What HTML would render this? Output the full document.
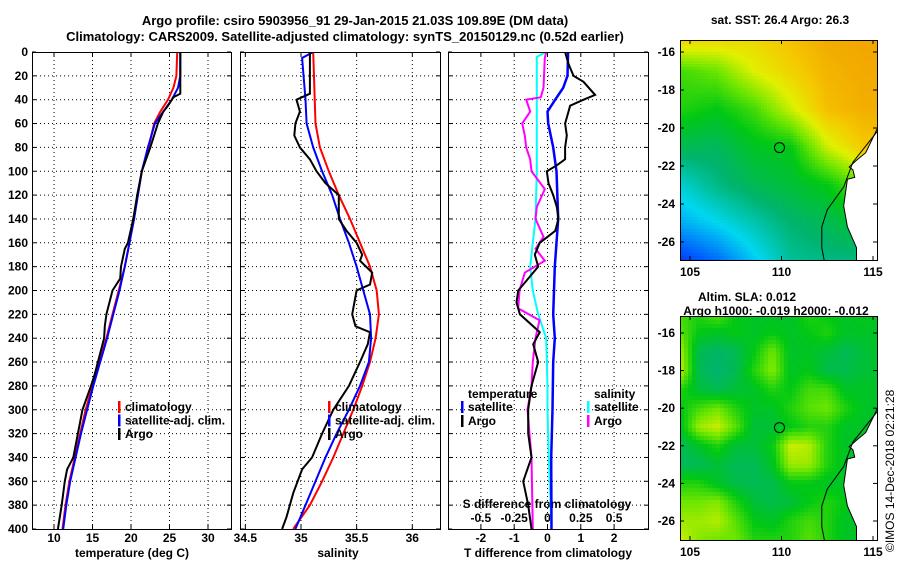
<!DOCTYPE html>
<html><head><meta charset="utf-8">
<style>
html,body{margin:0;padding:0;background:#fff;}
svg{display:block;}
text{font-family:"Liberation Sans",sans-serif;font-weight:bold;font-size:12px;fill:#000;}
.t{font-size:13px;}
</style></head>
<body>
<svg id="fig" width="900" height="580" viewBox="0 0 900 580" xmlns="http://www.w3.org/2000/svg">
<text class="t" x="355" y="25" text-anchor="middle">Argo profile: csiro 5903956_91 29-Jan-2015 21.03S 109.89E (DM data)</text>
<text class="t" x="345" y="41" text-anchor="middle">Climatology: CARS2009. Satellite-adjusted climatology: synTS_20150129.nc (0.52d earlier)</text>
<text x="780" y="24" text-anchor="middle">sat. SST: 26.4 Argo: 26.3</text>
<text x="747" y="301" text-anchor="middle">Altim. SLA: 0.012</text>
<text x="776" y="315" text-anchor="middle">Argo h1000: -0.019 h2000: -0.012</text>
<text x="0" y="0" transform="translate(894,552) rotate(-90)" style="font-weight:normal;font-size:12px">©IMOS 14-Dec-2018 02:21:28</text>
<g id="g"></g>
</svg>
<script>
// ---- data ----
const depthTClim=[0,20,30,40,50,60,80,100,120,140,160,180,200,220,240,260,280,300,320,340,360,380,400];
const tempClim=[26.0,25.9,25.5,24.8,23.8,23.0,22.3,21.4,20.9,20.3,19.8,19.2,18.4,17.6,16.8,15.9,15.0,14.1,13.4,12.7,12.0,11.5,11.1];
const tempSat=[26.4,26.4,26.1,25.3,24.2,23.1,22.2,21.4,20.9,20.4,19.8,19.2,18.5,17.7,16.9,16.0,15.1,14.3,13.5,12.8,12.1,11.6,11.2];
const depthTArgo=[0,35,38,45,50,60,70,80,100,120,140,160,165,180,190,200,220,230,240,260,270,280,300,320,340,350,360,380,400];
const tempArgo=[26.4,26.4,25.5,24.8,24.2,23.5,23.0,22.5,21.4,20.8,20.3,19.6,19.2,18.7,18.6,17.6,16.8,16.6,16.5,15.7,15.3,14.8,13.7,13.1,12.5,11.7,11.4,11.0,10.5];
const depthSClim=[0,60,80,100,120,140,160,180,200,220,240,260,280,300,320,340,360,380,400];
const salClim=[35.11,35.13,35.17,35.25,35.34,35.44,35.53,35.62,35.68,35.70,35.67,35.62,35.55,35.47,35.38,35.29,35.19,35.08,34.93];
const depthSSat=[0,5,40,60,80,100,120,140,160,180,200,220,240,260,280,300,320,340,360,380,400];
const salSat=[35.11,35.01,35.04,35.05,35.11,35.19,35.28,35.35,35.43,35.50,35.56,35.62,35.63,35.61,35.53,35.43,35.32,35.22,35.13,35.04,34.95];
const depthSArgo=[0,35,40,50,60,70,80,90,100,110,120,140,150,160,170,175,185,195,200,220,230,235,245,260,280,300,320,340,350,370,390,400];
const salArgo=[35.08,35.08,34.96,34.99,34.95,34.94,34.99,35.08,35.14,35.22,35.34,35.34,35.41,35.50,35.55,35.53,35.64,35.62,35.50,35.46,35.49,35.62,35.60,35.53,35.43,35.29,35.19,35.10,35.01,34.93,34.87,34.83];
const depthDT=[0,20,30,40,50,60,80,100,140,160,180,220,240,260,300,340,400];
const dTSat=[0.62,0.60,0.47,0.23,0.0,0.02,0.17,0.27,0.32,0.27,0.22,0.17,0.22,0.17,0.15,0.11,0.12];
const depthDTArgo=[0,10,20,25,36,40,45,50,60,70,80,90,95,100,110,120,130,140,150,160,170,180,190,200,210,220,235,245,260,280,300,320,340,360,380,400];
const dTArgo=[0.53,0.63,0.78,1.08,1.43,1.08,0.68,0.63,0.53,0.58,0.53,0.53,0.28,-0.02,0.03,0.17,0.28,0.33,0.23,-0.23,-0.38,-0.28,-0.58,-0.88,-0.93,-0.83,-0.23,-0.43,-0.28,-0.48,-0.58,-0.58,-0.48,-0.73,-0.58,-0.48];
const depthDS=[0,4,40,100,140,160,180,200,220,240,280,300,340,400];
const dSSat=[-0.01,-0.08,-0.08,-0.08,-0.09,-0.11,-0.13,-0.11,-0.07,-0.01,0.0,0.0,0.01,0.03];
const depthDSArgo=[0,5,30,38,40,50,60,70,80,90,100,115,130,140,155,165,175,185,200,215,225,240,260,280,300,340,400];
const dSArgo=[-0.01,-0.02,-0.03,-0.05,-0.16,-0.13,-0.19,-0.17,-0.16,-0.13,-0.12,-0.02,-0.08,-0.09,-0.03,-0.09,-0.02,-0.17,-0.21,-0.22,-0.06,-0.09,-0.11,-0.12,-0.15,-0.12,-0.11];
const depthTicks=[0,20,40,60,80,100,120,140,160,180,200,220,240,260,280,300,320,340,360,380,400];
const tempTicks=[10,15,20,25,30];
const salTicks=[34.5,35,35.5,36];
const salTickLabels=["34.5","35","35.5","36"];
const dTTicks=[-2,-1,0,1,2];
const dSTicks=[-0.5,-0.25,0,0.25,0.5];
const latTicks=[-16,-18,-20,-22,-24,-26];
const lonTicks=[105,110,115];
// SST coarse grid: rows lat -15..-27 step 2; cols lon 104.5..114.5 step 2 (colour index 0..1)
const sstGrid=[
[0.82,0.80,0.78,0.82,0.86,0.87],
[0.58,0.62,0.72,0.78,0.84,0.86],
[0.55,0.52,0.58,0.70,0.82,0.85],
[0.45,0.44,0.50,0.52,0.70,0.80],
[0.33,0.40,0.45,0.48,0.52,0.62],
[0.25,0.30,0.36,0.42,0.45,0.50],
[0.12,0.18,0.28,0.38,0.40,0.40]];
// SLA grid: rows lat -15..-27 step 1; cols lon 104.5..115.5 step 1
const slaGrid=[
[.58,.55,.60,.52,.50,.50,.50,.55,.52,.50,.52,.50],
[.60,.52,.50,.52,.50,.52,.50,.52,.55,.50,.50,.50],
[.66,.45,.43,.45,.52,.62,.50,.50,.48,.45,.48,.50],
[.68,.45,.42,.45,.55,.64,.50,.52,.46,.46,.48,.50],
[.55,.48,.45,.48,.50,.55,.52,.58,.58,.50,.50,.50],
[.52,.58,.62,.55,.50,.50,.55,.60,.62,.55,.50,.50],
[.50,.66,.70,.60,.48,.48,.52,.55,.55,.50,.50,.50],
[.45,.50,.55,.48,.48,.52,.70,.68,.55,.50,.50,.50],
[.44,.45,.48,.45,.45,.50,.66,.66,.55,.50,.50,.50],
[.55,.55,.50,.46,.45,.46,.52,.52,.50,.50,.50,.50],
[.62,.62,.64,.55,.48,.46,.48,.52,.55,.52,.50,.50],
[.66,.66,.68,.60,.52,.50,.55,.58,.55,.50,.50,.50],
[.70,.64,.62,.62,.55,.55,.55,.60,.55,.50,.50,.50]];
const coastLon=[115.4,115.3,114.6,114.1,113.7,113.9,114.0,113.6,113.4,113.6,114.1,114.1,116,116];
const coastLat=[-19.6,-19.9,-21.3,-21.7,-22.05,-22.2,-22.6,-22.7,-24.1,-25.2,-26.3,-27.3,-27.3,-19.6];
const isoLon=[115.4,115.3,113.9,113.4,112.5,112.2,112.2,112.4];
const isoLat=[-19.8,-20.1,-21.8,-23.1,-24.3,-25.2,-26.3,-27.3];
const argoLon=109.89, argoLat=-21.03;

// ---- scales ----
const yD=d=>52+d*1.1925;
const xT=t=>54+(t-10)*7.7;
const xS=s=>301+(s-35)*111.3;
const xDT=v=>547.5+v*33.3;
const xDS=v=>547.5+v*133.3;
const NS='http://www.w3.org/2000/svg';
const G=document.getElementById('g');
function mk(tag,attrs,parent){const e=document.createElementNS(NS,tag);for(const k in attrs)e.setAttribute(k,attrs[k]);(parent||G).appendChild(e);return e;}
function txt(x,y,s,anchor,parent){const e=mk('text',{x:x,y:y,'text-anchor':anchor||'middle'},parent);e.textContent=s;return e;}

const panels=[{x0:32,x1:231,name:'temperature-panel'},{x0:240,x1:440,name:'salinity-panel'},{x0:448,x1:648,name:'difference-panel'}];
const Y0=52,Y1=529;
const defs=mk('defs',{});
panels.forEach((p,i)=>{const c=mk('clipPath',{id:'c'+i},defs);mk('rect',{x:p.x0,y:Y0,width:p.x1-p.x0,height:Y1-Y0},c);});

function vgrid(i,xs){const p=panels[i];xs.forEach(x=>{if(x>p.x0+2&&x<p.x1-2){const l=mk('line',{x1:x,x2:x,y1:Y0,y2:Y1,stroke:'#000','stroke-width':1,'stroke-dasharray':'1,3'});

}
mk('line',{x1:x,x2:x,y1:Y1,y2:Y1-4,stroke:'#000'});mk('line',{x1:x,x2:x,y1:Y0,y2:Y0+4,stroke:'#000'});});}
panels.forEach((p,i)=>{depthTicks.forEach(d=>{const y=yD(d);if(d>0&&d<400){const l=mk('line',{x1:p.x0,x2:p.x1,y1:y,y2:y,stroke:'#000','stroke-dasharray':'1,3'});

}
mk('line',{x1:p.x0,x2:p.x0+4,y1:y,y2:y,stroke:'#000'});mk('line',{x1:p.x1,x2:p.x1-4,y1:y,y2:y,stroke:'#000'});});});
vgrid(0,tempTicks.map(xT));vgrid(1,salTicks.map(xS));vgrid(2,dTTicks.map(xDT));

depthTicks.forEach(d=>{const t=txt(28,yD(d)+4,String(d),'end');

});
tempTicks.forEach(v=>{const t=txt(xT(v),542,String(v));

});
salTicks.forEach((v,i)=>{const t=txt(xS(v),542,salTickLabels[i]);

});
dTTicks.forEach(v=>{const t=txt(xDT(v),542,String(v));

});
dSTicks.forEach(v=>{const t=txt(xDS(v),522,String(v));

});
let a=txt(132,557,'temperature (deg C)');
a=txt(338,557,'salinity');
a=txt(548,557,'T difference from climatology');
a=txt(547,508,'S difference from climatology');

function series(ci,ds,vs,sx,color,name,w){const pts=ds.map((d,i)=>sx(vs[i]).toFixed(1)+','+yD(d).toFixed(1)).join(' ');
const l=mk('polyline',{points:pts,fill:'none',stroke:color,'stroke-width':w||2,'clip-path':'url(#c'+ci+')'});

}
series(0,depthTClim,tempClim,xT,'#ff0000','temp-climatology-line');
series(0,depthTClim,tempSat,xT,'#0000ff','temp-satellite-line');
series(0,depthTArgo,tempArgo,xT,'#000','temp-argo-line');
series(1,depthSClim,salClim,xS,'#ff0000','sal-climatology-line');
series(1,depthSSat,salSat,xS,'#0000ff','sal-satellite-line');
series(1,depthSArgo,salArgo,xS,'#000','sal-argo-line');
series(2,depthDS,dSSat,xDS,'#00ffff','s-diff-satellite-line');
series(2,depthDSArgo,dSArgo,xDS,'#ff00ff','s-diff-argo-line');
series(2,depthDT,dTSat,xDT,'#0000ff','t-diff-satellite-line',2.5);
series(2,depthDTArgo,dTArgo,xDT,'#000','t-diff-argo-line');

panels.forEach(p=>{const r=mk('rect',{x:p.x0+0.5,y:Y0+0.5,width:p.x1-p.x0,height:Y1-Y0,fill:'none',stroke:'#000'});

});

function leg(x,y,color,label,name){mk('rect',{x:x,y:y-10,width:2.5,height:12,fill:color});const t=txt(x+7,y,label,'start');

}
[[0,'climatology','#f00'],[1,'satellite-adj. clim.','#00f'],[2,'Argo','#000']].forEach(r=>{leg(118,411+r[0]*13.5,r[2],r[1],'legend-entry');leg(328,411+r[0]*13.5,r[2],r[1],'legend-entry');});
a=txt(468,398,'temperature','start');
a=txt(594,398,'salinity','start');
leg(461,411,'#00f','satellite','legend-entry');leg(461,425,'#000','Argo','legend-entry');
leg(587,411,'#0ff','satellite','legend-entry');leg(587,425,'#f0f','Argo','legend-entry');

// ---- maps ----
const stops=[[0,[0,0,140]],[0.15,[0,80,255]],[0.3,[0,215,240]],[0.42,[0,180,110]],[0.52,[0,200,20]],[0.62,[110,230,0]],[0.72,[225,240,0]],[0.8,[245,200,0]],[0.9,[240,150,0]],[1,[230,60,0]]];
function cmap(v){v=Math.max(0,Math.min(1,v));for(let i=1;i<stops.length;i++){if(v<=stops[i][0]){const a=stops[i-1],b=stops[i],f=(v-a[0])/(b[0]-a[0]);return 'rgb('+a[1].map((c,k)=>Math.round(c+(b[1][k]-c)*f)).join(',')+')';}}return 'rgb(230,60,0)';}
function interp(grid,step,lon,lat){const nr=grid.length-1,nc=grid[0].length-1;let c=(lon-104.5)/step,r=(-15-lat)/step;c=Math.max(0,Math.min(nc,c));r=Math.max(0,Math.min(nr,r));const c0=Math.min(nc-1,Math.floor(c)),r0=Math.min(nr-1,Math.floor(r));const fc=c-c0,fr=r-r0;
return grid[r0][c0]*(1-fc)*(1-fr)+grid[r0][c0+1]*fc*(1-fr)+grid[r0+1][c0]*(1-fc)*fr+grid[r0+1][c0+1]*fc*fr;}
function drawMap(grid,step,top,bottom,latY,name,cell){const x0=680,x1=877;const lonX=l=>690+(l-105)*18.3;const xLon=x=>105+(x-690)/18.3;
const mg=mk('g',{});
const cp=mk('clipPath',{id:name+'-clip'},defs);mk('rect',{x:x0,y:top,width:x1-x0,height:bottom-top},cp);
const inner=mk('g',{'clip-path':'url(#'+name+'-clip)'},mg);
const ly=y=>-16-(y-latY(-16))/((latY(-26)-latY(-16))/10);
for(let y=top;y<bottom;y+=cell){for(let x=x0;x<x1;x+=cell){const v=interp(grid,step,xLon(x+cell/2),ly(y+cell/2));
const r=mk('rect',{x:x,y:y,width:cell,height:cell,fill:cmap(v)},inner);

}}
const land=mk('polygon',{points:coastLon.map((l,i)=>lonX(l).toFixed(1)+','+latY(coastLat[i]).toFixed(1)).join(' '),fill:'#fff',stroke:'#000','stroke-width':1},inner);

const iso=mk('polyline',{points:isoLon.map((l,i)=>lonX(l).toFixed(1)+','+latY(isoLat[i]).toFixed(1)).join(' '),fill:'none',stroke:'#000','stroke-width':1},inner);

const c=mk('circle',{cx:lonX(argoLon),cy:latY(argoLat),r:5,fill:'none',stroke:'#000','stroke-width':1},mg);

const fr=mk('rect',{x:x0+0.5,y:top+0.5,width:x1-x0,height:bottom-top,fill:'none',stroke:'#000'},mg);

latTicks.forEach(l=>{const y=latY(l);mk('line',{x1:x0,x2:x0+4,y1:y,y2:y,stroke:'#000'},mg);mk('line',{x1:x1,x2:x1-4,y1:y,y2:y,stroke:'#000'},mg);
const t=txt(675,y+4,String(l),'end',mg);

});
lonTicks.forEach(l=>{const x=lonX(l);mk('line',{x1:x,x2:x,y1:bottom,y2:bottom-4,stroke:'#000'},mg);mk('line',{x1:x,x2:x,y1:top,y2:top+4,stroke:'#000'},mg);
const t=txt(x,bottom+16,String(l),'middle',mg);

});}
drawMap(sstGrid,2,40,260,l=>52+(-16-l)*19,'sst-map',3);
drawMap(slaGrid,1,316,540,l=>333+(-16-l)*18.8,'sla-map',4);
</script>
</body></html>
